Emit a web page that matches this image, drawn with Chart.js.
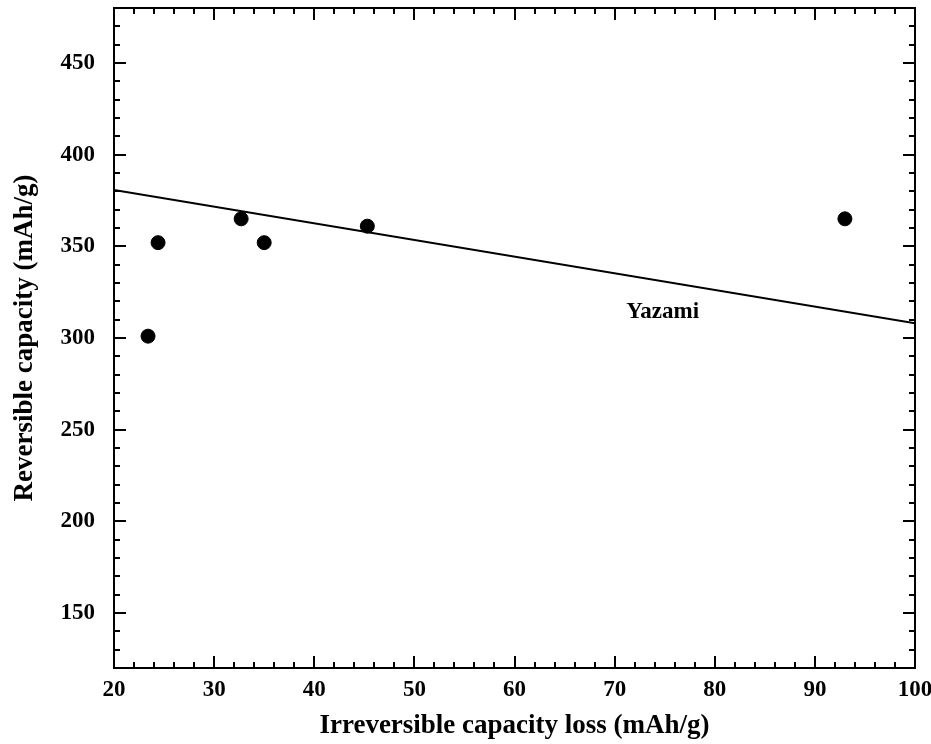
<!DOCTYPE html>
<html>
<head>
<meta charset="utf-8">
<script src="https://cdn.jsdelivr.net/npm/chart.js@4/dist/chart.umd.min.js"></script>
<style>
  html, body { margin: 0; padding: 0; background: #fff; }
  #wrap { width: 931px; height: 744px; }
</style>
</head>
<body>
<div id="wrap"><canvas id="grafico"></canvas></div>
<script>
// pontos medidos
var lossX = [23.4, 24.4, 32.7, 35.0, 45.3, 93.0];
var capY = [301, 352, 365, 352, 361, 365];

// reta Yazami
var fitX = [20, 100];
var fitY = [380.8, 308];

// rótulo da reta
var labelText = 'Yazami';
var labelPos = [74.8, 314];

var xTicks = [20, 30, 40, 50, 60, 70, 80, 90, 100];
var yTicks = [150, 200, 250, 300, 350, 400, 450];

var fonte = "'Liberation Serif', 'Times New Roman', serif";

function semPadding(s) {
    s.paddingLeft = 0; s.paddingRight = 0;
    s.paddingTop = 0; s.paddingBottom = 0;
}

// moldura + ticks para dentro nos quatro lados
var molduraPlugin = {
    id: 'moldura',
    afterDraw: function (chart) {
        var ctx = chart.ctx;
        var a = chart.chartArea;
        var sx = chart.scales.x, sy = chart.scales.y;
        ctx.save();
        ctx.strokeStyle = '#000';
        ctx.lineWidth = 2;
        ctx.strokeRect(a.left, a.top, a.right - a.left, a.bottom - a.top);
        ctx.beginPath();
        for (var v = 20; v <= 100; v += 2) {
            var px = Math.round(sx.getPixelForValue(v));
            var len = (v % 10 === 0) ? 12 : 6;
            ctx.moveTo(px, a.bottom); ctx.lineTo(px, a.bottom - len);
            ctx.moveTo(px, a.top); ctx.lineTo(px, a.top + len);
        }
        for (var w = 130; w <= 470; w += 10) {
            var py = Math.round(sy.getPixelForValue(w));
            var l2 = (w % 50 === 0) ? 12 : 6;
            ctx.moveTo(a.left, py); ctx.lineTo(a.left + l2, py);
            ctx.moveTo(a.right, py); ctx.lineTo(a.right - l2, py);
        }
        ctx.stroke();

        // texto da reta
        ctx.fillStyle = '#000';
        ctx.font = 'bold 23px ' + fonte;
        ctx.textAlign = 'center';
        ctx.textBaseline = 'middle';
        ctx.fillText(labelText, sx.getPixelForValue(labelPos[0]), sy.getPixelForValue(labelPos[1]));
        ctx.restore();
    }
};

var ctx = document.getElementById('grafico').getContext('2d');
new Chart(ctx, {
    type: 'scatter',
    data: {
        datasets: [{
            label: 'Dados',
            data: lossX.map(function (x, i) { return { x: x, y: capY[i] }; }),
            backgroundColor: '#000',
            borderColor: '#000',
            pointRadius: 7,
            pointHoverRadius: 7
        }, {
            label: labelText,
            type: 'line',
            data: fitX.map(function (x, i) { return { x: x, y: fitY[i] }; }),
            borderColor: '#000',
            borderWidth: 2,
            pointRadius: 0,
            fill: false
        }]
    },
    options: {
        responsive: true,
        maintainAspectRatio: false,
        animation: false,
        layout: { padding: { left: 0, right: 16, top: 7, bottom: 0 } },
        plugins: {
            legend: { display: false },
            tooltip: { enabled: false }
        },
        scales: {
            x: {
                type: 'linear',
                min: 20,
                max: 100,
                afterFit: function (s) { s.height = 76; semPadding(s); },
                afterBuildTicks: function (s) { s.ticks = xTicks.map(function (v) { return { value: v }; }); },
                grid: { display: false, drawTicks: false },
                border: { display: false },
                ticks: {
                    padding: 8,
                    color: '#000',
                    font: { family: fonte, size: 23, weight: 'bold' }
                },
                title: {
                    display: true,
                    text: 'Irreversible capacity loss (mAh/g)',
                    color: '#000',
                    padding: { top: 0, bottom: 2 },
                    font: { family: fonte, size: 27, weight: 'bold' }
                }
            },
            y: {
                type: 'linear',
                min: 120,
                max: 480,
                afterFit: function (s) { s.width = 114; semPadding(s); },
                afterBuildTicks: function (s) { s.ticks = yTicks.map(function (v) { return { value: v }; }); },
                grid: { display: false, drawTicks: false },
                border: { display: false },
                ticks: {
                    padding: 19,
                    color: '#000',
                    font: { family: fonte, size: 23, weight: 'bold' }
                },
                title: {
                    display: true,
                    text: 'Reversible capacity (mAh/g)',
                    color: '#000',
                    padding: { top: 9, bottom: 0 },
                    font: { family: fonte, size: 27, weight: 'bold' }
                }
            }
        }
    },
    plugins: [molduraPlugin]
});
</script>
</body>
</html>
